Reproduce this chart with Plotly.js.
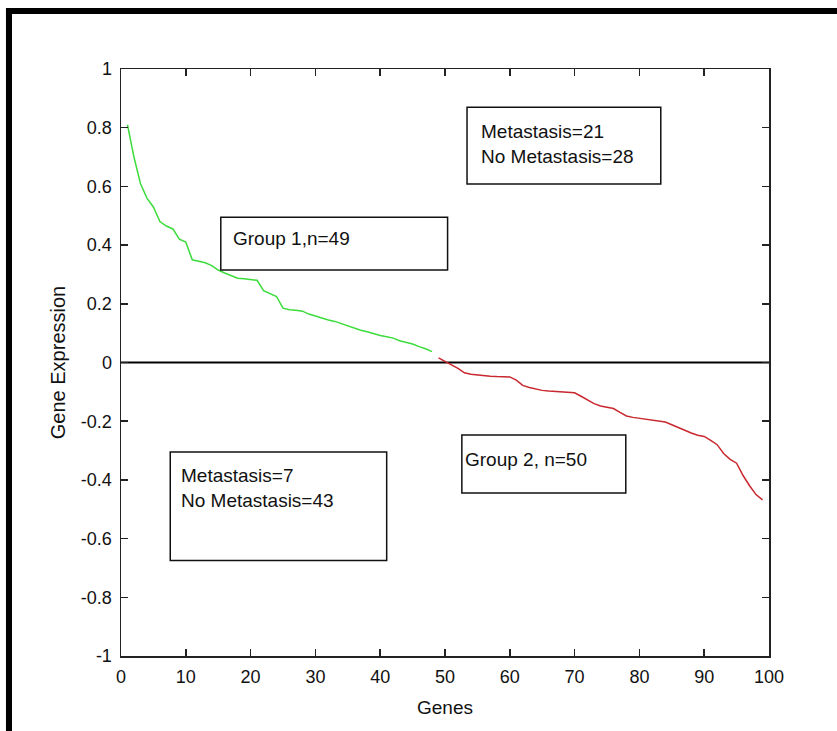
<!DOCTYPE html>
<html>
<head>
<meta charset="utf-8">
<script src="https://cdn.plot.ly/plotly-3.0.1.min.js"></script>
<style>
html,body{margin:0;padding:0;background:#fff;}
#chart{width:837px;height:731px;}
</style>
</head>
<body>
<div id="chart"></div>
<script>
// Group 1 (green) genes
const group1X = [1,2,3,4,5,6,7,8,9,10,11,12,13,14,15,16,17,18,19,20,21,22,23,24,25,26,27,28,29,30,31,32,33,34,35,36,37,38,39,40,41,42,43,44,45,46,47,48];
const group1Y = [0.81,0.70,0.61,0.56,0.53,0.48,0.465,0.455,0.42,0.41,0.35,0.345,0.34,0.33,0.315,0.305,0.295,0.287,0.285,0.283,0.28,0.245,0.235,0.225,0.185,0.18,0.178,0.175,0.165,0.158,0.152,0.145,0.14,0.132,0.124,0.118,0.11,0.105,0.098,0.092,0.088,0.083,0.074,0.068,0.063,0.054,0.047,0.037];
// Group 2 (red) genes
const group2X = [49,50,51,52,53,54,55,56,57,58,59,60,61,62,63,64,65,66,67,68,69,70,71,72,73,74,75,76,77,78,79,80,81,82,83,84,85,86,87,88,89,90,91,92,93,94,95,96,97,98,99];
const group2Y = [0.016,0.005,-0.008,-0.02,-0.035,-0.04,-0.043,-0.045,-0.047,-0.048,-0.048,-0.049,-0.06,-0.078,-0.085,-0.09,-0.095,-0.097,-0.099,-0.1,-0.102,-0.103,-0.115,-0.128,-0.14,-0.148,-0.152,-0.157,-0.17,-0.182,-0.187,-0.19,-0.194,-0.197,-0.2,-0.203,-0.212,-0.222,-0.23,-0.24,-0.248,-0.252,-0.265,-0.28,-0.31,-0.33,-0.343,-0.385,-0.42,-0.45,-0.468];
// Zero reference line
const zeroLineX = [0,100];
const zeroLineY = [0,0];
// Ticks
const xTickVals = [0,10,20,30,40,50,60,70,80,90,100];
const xTickLabels = ["0","10","20","30","40","50","60","70","80","90","100"];
const yTickVals = [-1,-0.8,-0.6,-0.4,-0.2,0,0.2,0.4,0.6,0.8,1];
const yTickLabels = ["-1","-0.8","-0.6","-0.4","-0.2","0","0.2","0.4","0.6","0.8","1"];
// Box texts
const boxTexts = ["Metastasis=21<br>No Metastasis=28","Group 1,n=49","Group 2, n=50","Metastasis=7<br>No Metastasis=43"];

const FONT = '"Liberation Sans", Arial, sans-serif';

const traces = [
  {x: zeroLineX, y: zeroLineY, mode:'lines', line:{color:'#000', width:2}, hoverinfo:'skip'},
  {x: group1X, y: group1Y, mode:'lines', line:{color:'#3cdc3c', width:1.5}},
  {x: group2X, y: group2Y, mode:'lines', line:{color:'#c8282e', width:1.5}}
];

const boxLine = {color:'#111', width:1.5};
const shapes = [
  // outer frame (top and left thick borders)
  {type:'rect', xref:'paper', yref:'paper', x0:-0.1775, x1:1.11, y0:1.0937, y1:1.1039, fillcolor:'#000', line:{width:0}},
  {type:'rect', xref:'paper', yref:'paper', x0:-0.1775, x1:-0.1682, y0:-0.15, y1:1.1039, fillcolor:'#000', line:{width:0}},
  // annotation boxes
  {type:'rect', xref:'x', yref:'y', x0:53.4, x1:83.3, y0:0.608, y1:0.870, line:boxLine},
  {type:'rect', xref:'x', yref:'y', x0:15.4, x1:50.4, y0:0.315, y1:0.495, line:boxLine},
  {type:'rect', xref:'x', yref:'y', x0:52.6, x1:77.9, y0:-0.445, y1:-0.247, line:boxLine},
  {type:'rect', xref:'x', yref:'y', x0:7.6, x1:41.0, y0:-0.675, y1:-0.305, line:boxLine}
];

const annFont = {family: FONT, size: 19, color:'#111'};
const annotations = [
  {x:55.2, y:0.744, text:boxTexts[0]},
  {x:16.9, y:0.423, text:boxTexts[1]},
  {x:52.8, y:-0.329, text:boxTexts[2]},
  {x:9.0, y:-0.429, text:boxTexts[3]}
].map(a => Object.assign({xref:'x', yref:'y', xanchor:'left', yanchor:'middle', align:'left', showarrow:false, font:annFont}, a));

const axisCommon = {
  showline:true, linecolor:'#222', linewidth:1.5, mirror:'ticks',
  ticks:'inside', ticklen:7, tickwidth:1.5, tickcolor:'#222',
  showgrid:false, zeroline:false, tickmode:'array',
  tickfont:{family:FONT, size:18, color:'#111'}
};

const layout = {
  width:837, height:731,
  margin:{l:121, r:68, t:69, b:75},
  paper_bgcolor:'#fff', plot_bgcolor:'#fff',
  showlegend:false,
  xaxis: Object.assign({}, axisCommon, {
    range:[0,100], tickvals:xTickVals, ticktext:xTickLabels,
    ticklabelstandoff:4,
    title:{text:'Genes', font:{family:FONT, size:19, color:'#111'}, standoff:14}
  }),
  yaxis: Object.assign({}, axisCommon, {
    range:[-1,1], tickvals:yTickVals, ticktext:yTickLabels,
    ticklabelstandoff:4,
    title:{text:'Gene Expression', font:{family:FONT, size:20, color:'#111'}, standoff:10}
  }),
  shapes: shapes,
  annotations: annotations
};

Plotly.newPlot('chart', traces, layout, {displayModeBar:false, staticPlot:true});
</script>
</body>
</html>
